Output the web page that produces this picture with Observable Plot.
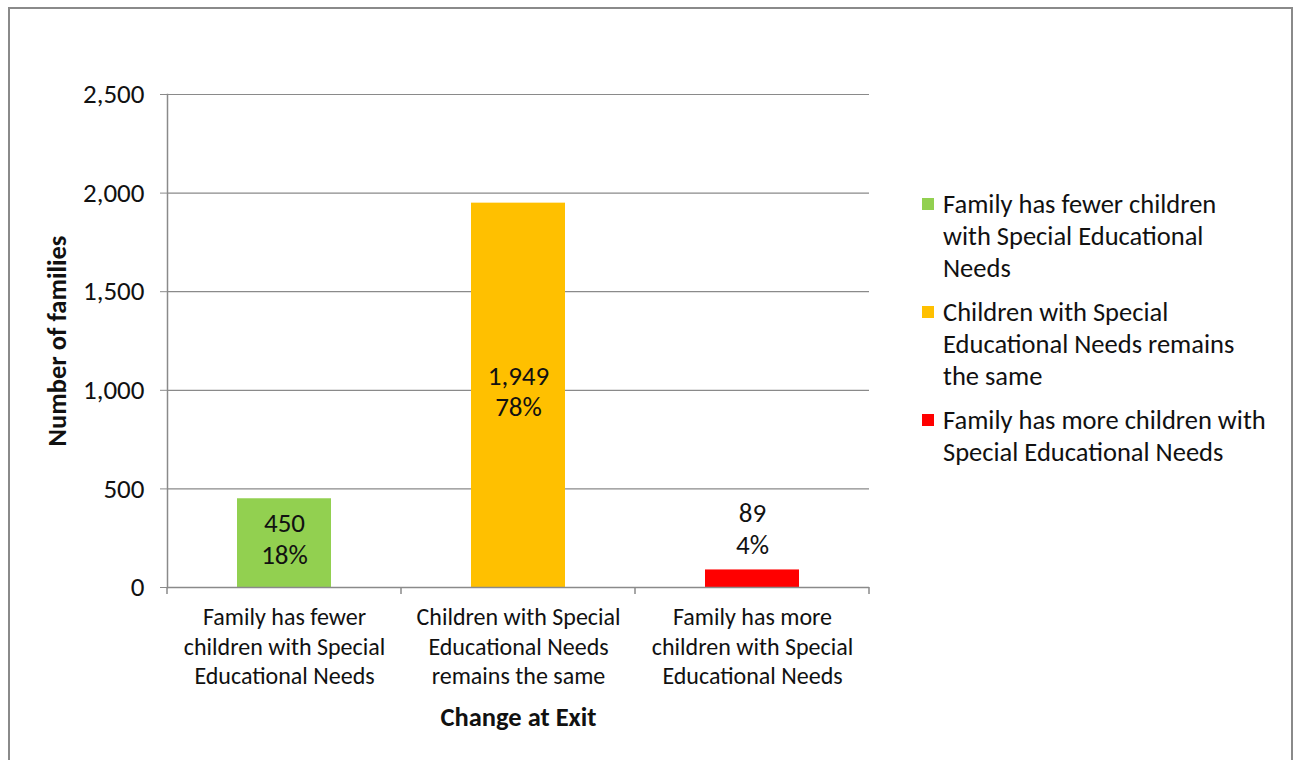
<!DOCTYPE html>
<html>
<head>
<meta charset="utf-8">
<script src="https://cdn.jsdelivr.net/npm/d3@7"></script>
<script src="https://cdn.jsdelivr.net/npm/@observablehq/plot@0.6"></script>
<style>
  html, body { margin: 0; padding: 0; background: #fff; overflow: hidden; }
  body { width: 1295px; height: 760px; position: relative; font-family: Carlito, Calibri, Lato, sans-serif; color: #111; }
  #border { position: absolute; left: 8px; top: 7px; width: 1285px; height: 800px; border: 2px solid #8a8a8a; box-sizing: border-box; }
  #chart { position: absolute; left: 0; top: 0; }
  #legend { position: absolute; left: 922px; top: 188px; width: 370px; }
  .item { display: flex; align-items: flex-start; margin-bottom: 12px; }
  .sw { width: 12px; height: 12px; flex: none; margin-top: 10px; margin-right: 9px; }
  .lt { font-size: 26.5px; line-height: 32px; white-space: nowrap; }
</style>
</head>
<body>
<div id="border"></div>
<div id="chart"></div>
<div id="legend"></div>
<script>
// ---- data ----
const categories = [
  "Family has fewer children with Special Educational Needs",
  "Children with Special Educational Needs remains the same",
  "Family has more children with Special Educational Needs"
];
const categoryTickLabels = [
  "Family has fewer\nchildren with Special\nEducational Needs",
  "Children with Special\nEducational Needs\nremains the same",
  "Family has more\nchildren with Special\nEducational Needs"
];
const legendLabels = [
  "Family has fewer children\nwith Special Educational\nNeeds",
  "Children with Special\nEducational Needs remains\nthe same",
  "Family has more children with\nSpecial Educational Needs"
];
const values = [450, 1949, 89];
const percents = [18, 78, 4];
const colors = ["#92D050", "#FFC000", "#FF0000"];
const yTicks = [0, 500, 1000, 1500, 2000, 2500];

const data = categories.map((c, i) => ({category: c, value: values[i], pct: percents[i]}));
const fmt = d3.format(",");
const insideThreshold = 300;
const FONT = "Carlito, Calibri, Lato, sans-serif";

const chart = Plot.plot({
  width: 1295,
  height: 760,
  marginLeft: 167,
  marginRight: 426,
  marginTop: 94,
  marginBottom: 173,
  style: {fontFamily: FONT, fontSize: "22px", color: "#111", background: "transparent", overflow: "visible"},
  x: {domain: categories, paddingInner: 0.6, paddingOuter: 0.3},
  y: {domain: [0, 2500]},
  color: {domain: categories, range: colors},
  marks: [
    Plot.gridY(yTicks, {stroke: "#8a8a8a", strokeOpacity: 1, strokeWidth: 1.2}),
    Plot.barY(data, {x: "category", y: "value", fill: "category"}),
    Plot.ruleY([0], {stroke: "#8a8a8a", strokeWidth: 1.5}),
    Plot.frame({anchor: "left", stroke: "#8a8a8a", strokeWidth: 1.5}),
    Plot.axisY({
      ticks: yTicks, tickFormat: fmt, tickSize: 7, tickPadding: 16,
      stroke: "#8a8a8a", fontSize: 27, fill: "#111",
      label: "Number of families", labelAnchor: "center", labelArrow: "none", labelOffset: 120
    }),
    Plot.axisX({
      tickSize: 0, tickPadding: 17, fontSize: 24, fill: "#111", lineHeight: 1.23,
      tickFormat: (d, i) => categoryTickLabels[categories.indexOf(d)],
      label: "Change at Exit", labelAnchor: "center", labelArrow: "none", labelOffset: 138
    }),
    Plot.text(data.filter(d => d.value > insideThreshold), {
      x: "category", y: d => d.value / 2, text: d => `${fmt(d.value)}\n${d.pct}%`,
      fontSize: 27, fill: "#111", lineHeight: 1.17, lineAnchor: "middle", dy: -5
    }),
    Plot.text(data.filter(d => d.value <= insideThreshold), {
      x: "category", y: "value", text: d => `${fmt(d.value)}\n${d.pct}%`,
      fontSize: 27, fill: "#111", lineHeight: 1.17, lineAnchor: "bottom", dy: -16
    })
  ]
});

// x-axis tick marks at band boundaries, derived from the x scale
const xs = chart.scale("x");
const ys = chart.scale("y");
const gap = xs.step - xs.bandwidth;
const y0 = ys.apply(0);
const bounds = categories.map(c => xs.apply(c) - gap / 2);
bounds.push(xs.apply(categories[categories.length - 1]) + xs.bandwidth + gap / 2);
d3.select(chart).append("g").selectAll("line").data(bounds).join("line")
  .attr("x1", d => d).attr("x2", d => d)
  .attr("y1", y0).attr("y2", y0 + 7)
  .attr("stroke", "#8a8a8a").attr("stroke-width", 1.5);

// bold axis titles
d3.select(chart).selectAll("[aria-label='y-axis label'] text, [aria-label='x-axis label'] text")
  .attr("font-weight", "bold").attr("font-size", 26.5);

document.getElementById("chart").appendChild(chart);

// legend
const legend = document.getElementById("legend");
legendLabels.forEach((l, i) => {
  const item = document.createElement("div");
  item.className = "item";
  const sw = document.createElement("div");
  sw.className = "sw";
  sw.style.background = colors[i];
  const t = document.createElement("div");
  t.className = "lt";
  t.innerHTML = l.split("\n").map(s => s.replace(/&/g, "&amp;")).join("<br>");
  item.appendChild(sw);
  item.appendChild(t);
  legend.appendChild(item);
});
</script>
</body>
</html>
